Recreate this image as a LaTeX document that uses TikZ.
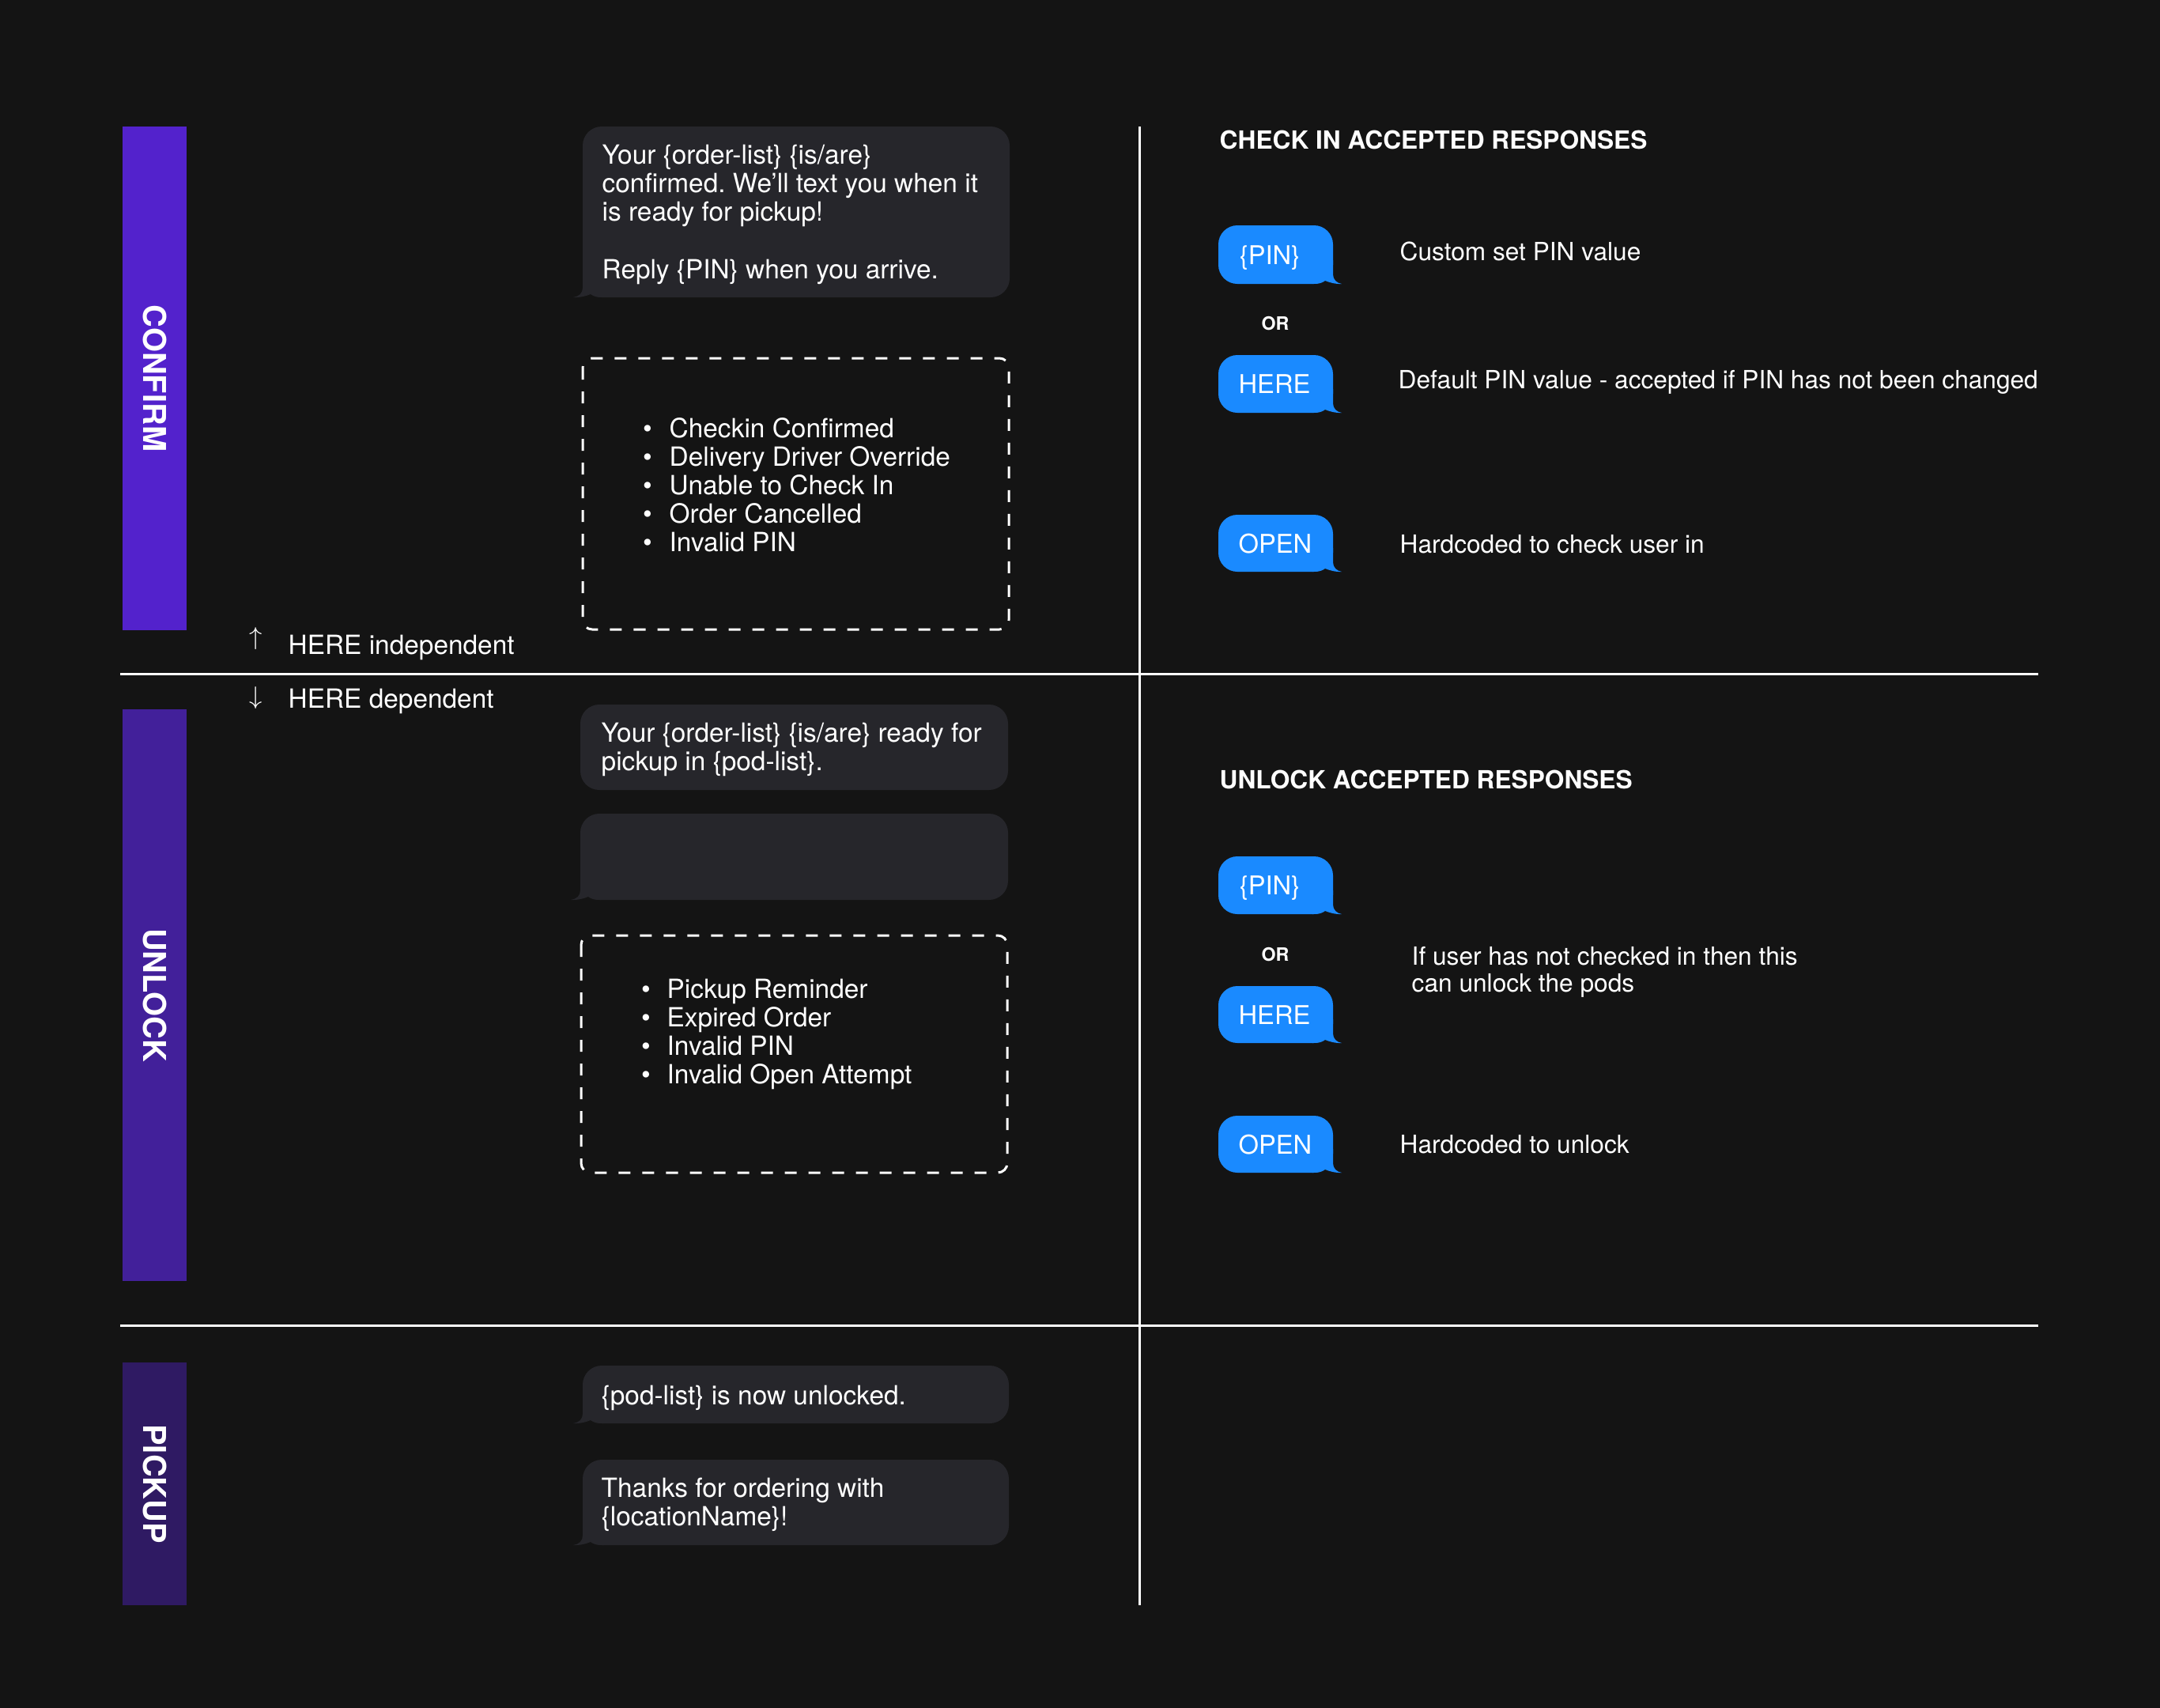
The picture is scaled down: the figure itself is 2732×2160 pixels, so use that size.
\documentclass[tikz,border=0pt]{standalone}
\usepackage{fontspec}
\setmainfont{TeX Gyre Heros}
\frenchspacing
\definecolor{bgdark}{HTML}{141414}
\definecolor{bubblegray}{HTML}{26262B}
\definecolor{btnblue}{HTML}{1A8AFF}
\definecolor{confirmbar}{HTML}{5322CC}
\definecolor{unlockbar}{HTML}{42209A}
\definecolor{pickupbar}{HTML}{2F1A63}
\newcommand\grayTail[2]{% L, B
  \fill[bubblegray] (#1,{#2-30}) -- (#1,{#2-12}) .. controls (#1,{#2-5}) and ({#1-5},{#2-1}) .. ({#1-12},#2) .. controls ({#1-3},{#2+0.5}) and ({#1+5},{#2-2}) .. ({#1+10},{#2-4}) .. controls ({#1+14},{#2-1}) and ({#1+18},#2) .. ({#1+26},#2) -- ({#1+26},{#2-30}) -- cycle;}
\newcommand\blueTail[2]{% R, B
  \fill[btnblue] (#1,{#2-30}) -- (#1,{#2-12}) .. controls (#1,{#2-5}) and ({#1+5},{#2-1}) .. ({#1+11},#2) .. controls ({#1+3},{#2+0.5}) and ({#1-5},{#2-2}) .. ({#1-10},{#2-4}) .. controls ({#1-14},{#2-1}) and ({#1-18},#2) .. ({#1-26},#2) -- ({#1-26},{#2-30}) -- cycle;}
\begin{document}
\begin{tikzpicture}[x=0.01cm,y=-0.01cm,
  msg/.style={font=\fontsize{9.5}{11}\selectfont, text=white, anchor=base west, inner sep=0pt},
  bul/.style={font=\fontsize{9.5}{11}\selectfont, text=white, anchor=base, inner sep=0pt},
  desc/.style={font=\fontsize{9}{11}\selectfont, text=white, anchor=base west, inner sep=0pt},
  head/.style={font=\bfseries\fontsize{9}{11}\selectfont, text=white, anchor=base west, inner sep=0pt},
  ortext/.style={font=\bfseries\fontsize{6.6}{8}\selectfont, text=white, anchor=base, inner sep=0pt},
  btntext/.style={font=\fontsize{9.3}{11}\selectfont, text=white, anchor=base, inner sep=0pt},
  barlabel/.style={rotate=-90, font=\bfseries\fontsize{11.3}{13}\selectfont, text=white, inner sep=0pt},
  arrowglyph/.style={font=\fontsize{9.5}{11}\selectfont, text=white, anchor=base, inner sep=0pt},
  grayfill/.style={fill=bubblegray, rounded corners=0.24cm},
  bluefill/.style={fill=btnblue, rounded corners=0.24cm},
  dashbox/.style={draw=white, line width=0.03cm, dash pattern=on 0.15cm off 0.15cm, rounded corners=0.12cm},
  rulel/.style={draw=white, line width=0.03cm}]
\useasboundingbox (0,0) rectangle (2732,2160);
\fill[bgdark] (0,0) rectangle (2732,2160);

% side bars
\fill[confirmbar] (155,160) rectangle (236,797);
\fill[unlockbar] (155,897) rectangle (236,1620);
\fill[pickupbar] (155,1723) rectangle (236,2030);
\node[barlabel] (lconfirm) at (195.5,478.5) {CONFIRM};
\node[barlabel] (lunlock) at (195.5,1258.5) {UNLOCK};
\node[barlabel] (lpickup) at (195.5,1876.5) {PICKUP};

% rules
\draw[rulel] (152,852) -- (2578,852);
\draw[rulel] (152,1676) -- (2578,1676);
\draw[rulel] (1441,160) -- (1441,2030);

% HERE labels
\node[arrowglyph] (upar) at (324,815) {$\uparrow$};
\node[msg] (hind) at (364,827) {HERE independent};
\node[arrowglyph] (dnar) at (324,890) {$\downarrow$};
\node[msg] (hdep) at (364,895) {HERE dependent};

% CONFIRM column
\fill[grayfill] (737,160) rectangle (1277,376);
\grayTail{737}{376}
\node[msg] (b1a) at (761,207) {Your \{order-list\} \{is/are\}};
\node[msg] (b1b) at (761,243) {confirmed. We’ll text you when it};
\node[msg] (b1c) at (761,279) {is ready for pickup!};
\node[msg] (b1d) at (761,352) {Reply \{PIN\} when you arrive.};

\draw[dashbox] (737,453) rectangle (1276,796);
\node[bul] (d1p1) at (819,553) {•};
\node[msg] (d1a) at (846,553) {Checkin Confirmed};
\node[bul] (d1p2) at (819,589) {•};
\node[msg] (d1b) at (846,589) {Delivery Driver Override};
\node[bul] (d1p3) at (819,625) {•};
\node[msg] (d1c) at (846,625) {Unable to Check In};
\node[bul] (d1p4) at (819,661) {•};
\node[msg] (d1d) at (846,661) {Order Cancelled};
\node[bul] (d1p5) at (819,697) {•};
\node[msg] (d1e) at (846,697) {Invalid PIN};

% UNLOCK column
\fill[grayfill] (734,891) rectangle (1275,999);
\node[msg] (b2a) at (760,938) {Your \{order-list\} \{is/are\} ready for};
\node[msg] (b2b) at (760,974) {pickup in \{pod-list\}.};

\fill[grayfill] (734,1029) rectangle (1275,1138);
\grayTail{734}{1138}

\draw[dashbox] (735,1183) rectangle (1274,1483);
\node[bul] (d2p1) at (817,1262) {•};
\node[msg] (d2a) at (843,1262) {Pickup Reminder};
\node[bul] (d2p2) at (817,1298) {•};
\node[msg] (d2b) at (843,1298) {Expired Order};
\node[bul] (d2p3) at (817,1334) {•};
\node[msg] (d2c) at (843,1334) {Invalid PIN};
\node[bul] (d2p4) at (817,1370) {•};
\node[msg] (d2d) at (843,1370) {Invalid Open Attempt};

% PICKUP column
\fill[grayfill] (737,1727) rectangle (1276,1800);
\grayTail{737}{1800}
\node[msg] (b4a) at (760,1776) {\{pod-list\} is now unlocked.};

\fill[grayfill] (737,1846) rectangle (1276,1954);
\grayTail{737}{1954}
\node[msg] (b5a) at (760,1893) {Thanks for ordering with};
\node[msg] (b5b) at (760,1929) {\{locationName\}!};

% CHECK IN accepted responses
\node[head] (h1) at (1542,188) {CHECK IN ACCEPTED RESPONSES};
\fill[bluefill] (1541,285) rectangle (1686,359);
\blueTail{1686}{359}
\node[btntext] (t1pin) at (1606,334) {\{PIN\}};
\node[desc] (c1pin) at (1770,329) {Custom set PIN value};
\node[ortext] (or1) at (1613,417) {OR};
\fill[bluefill] (1541,449) rectangle (1686,522);
\blueTail{1686}{522}
\node[btntext] (t1here) at (1612,497) {HERE};
\node[desc] (c1here) at (1768,491) {Default PIN value - accepted if PIN has not been changed};
\fill[bluefill] (1541,651) rectangle (1686,723);
\blueTail{1686}{723}
\node[btntext] (t1open) at (1613,699) {OPEN};
\node[desc] (c1open) at (1770,699) {Hardcoded to check user in};

% UNLOCK accepted responses
\node[head] (h2) at (1542,997) {UNLOCK ACCEPTED RESPONSES};
\fill[bluefill] (1541,1083) rectangle (1686,1156);
\blueTail{1686}{1156}
\node[btntext] (t2pin) at (1606,1131) {\{PIN\}};
\node[ortext] (or2) at (1613,1215) {OR};
\fill[bluefill] (1541,1247) rectangle (1686,1319);
\blueTail{1686}{1319}
\node[btntext] (t2here) at (1612,1295) {HERE};
\node[desc] (c2a) at (1785,1220) {If user has not checked in then this};
\node[desc] (c2b) at (1785,1254) {can unlock the pods};
\fill[bluefill] (1541,1411) rectangle (1686,1483);
\blueTail{1686}{1483}
\node[btntext] (t2open) at (1613,1459) {OPEN};
\node[desc] (c2open) at (1770,1458) {Hardcoded to unlock};
\end{tikzpicture}
\end{document}
